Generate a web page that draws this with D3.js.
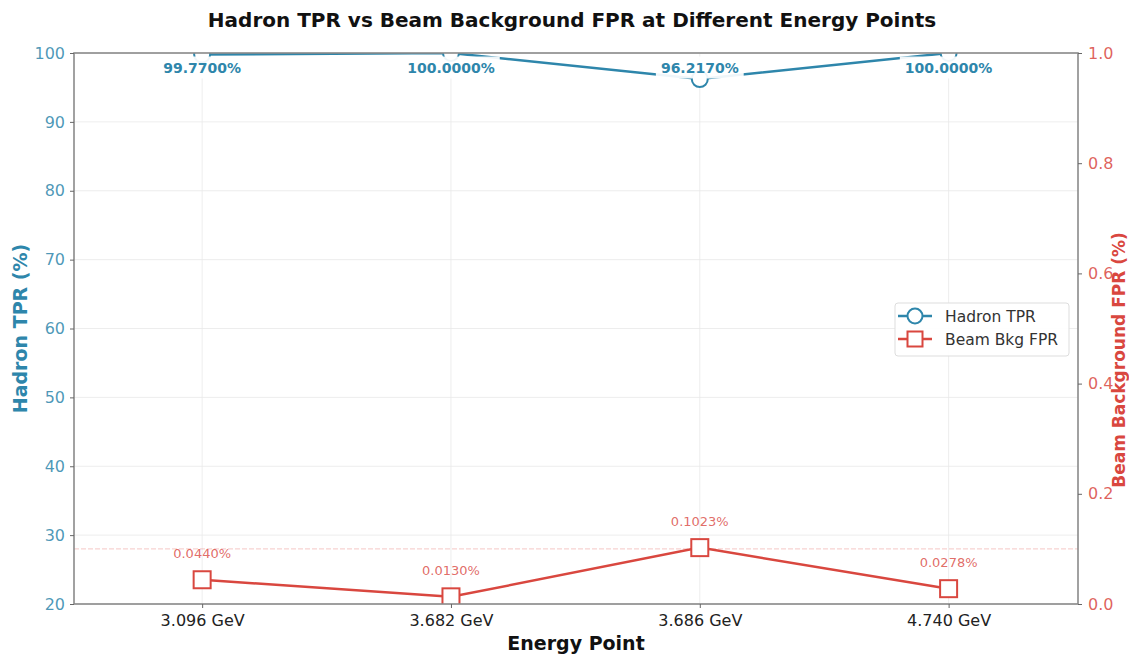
<!DOCTYPE html>
<html><head><meta charset="utf-8">
<script src="https://cdn.jsdelivr.net/npm/d3@7"></script>
<style>body{margin:0;background:#fff;}svg{display:block;font-family:"DejaVu Sans",sans-serif;}</style>
</head><body>
<svg id="c" width="1129" height="654"></svg>
<script>
const categories = ["3.096 GeV", "3.682 GeV", "3.686 GeV", "4.740 GeV"];
const hadronTPR = [99.77, 100.0, 96.217, 100.0];
const beamFPR = [0.0440, 0.0130, 0.1023, 0.0278];
const leftTicks = [20, 30, 40, 50, 60, 70, 80, 90, 100];
const rightTicks = [0.0, 0.2, 0.4, 0.6, 0.8, 1.0];

const blue = "#2E86AB", red = "#D9473F";
const svg = d3.select("#c");
const L = 74, R = 1078, T = 53, B = 604;

const x = d3.scaleLinear().domain([-0.515, categories.length - 1 + 0.52]).range([L, R]);
const yL = d3.scaleLinear().domain([20, 100]).range([B, T]);
const yR = d3.scaleLinear().domain([0, 1]).range([B, T]);

// grid
const g = svg.append("g");
g.selectAll(".hg").data(leftTicks).enter().append("line")
  .attr("x1", L).attr("x2", R).attr("y1", d => yL(d)).attr("y2", d => yL(d))
  .attr("stroke", "#e8e8e8").attr("stroke-width", 0.8);
g.selectAll(".vg").data(categories).enter().append("line")
  .attr("x1", (d, i) => x(i)).attr("x2", (d, i) => x(i)).attr("y1", T).attr("y2", B)
  .attr("stroke", "#e8e8e8").attr("stroke-width", 0.8);
// threshold line at 0.1
g.append("line").attr("x1", L).attr("x2", R).attr("y1", yR(0.1)).attr("y2", yR(0.1))
  .attr("stroke", red).attr("stroke-opacity", 0.3).attr("stroke-width", 1).attr("stroke-dasharray", "5,2");

// clip
svg.append("clipPath").attr("id", "clip").append("rect")
  .attr("x", L).attr("y", T).attr("width", R - L).attr("height", B - T);

const plot = svg.append("g").attr("clip-path", "url(#clip)");

// Hadron line
plot.append("path").datum(hadronTPR)
  .attr("d", d3.line().x((d, i) => x(i)).y(d => yL(d)))
  .attr("fill", "none").attr("stroke", blue).attr("stroke-width", 2.5);
plot.selectAll(".hc").data(hadronTPR).enter().append("circle")
  .attr("cx", (d, i) => x(i)).attr("cy", d => yL(d)).attr("r", 8)
  .attr("fill", "#fff").attr("stroke", blue).attr("stroke-width", 2);

// Beam line
plot.append("path").datum(beamFPR)
  .attr("d", d3.line().x((d, i) => x(i)).y(d => yR(d)))
  .attr("fill", "none").attr("stroke", red).attr("stroke-width", 2.5);
plot.selectAll(".bs").data(beamFPR).enter().append("rect")
  .attr("x", (d, i) => x(i) - 8.5).attr("y", d => yR(d) - 8.5)
  .attr("width", 17).attr("height", 17)
  .attr("fill", "#fff").attr("stroke", red).attr("stroke-width", 2);

// Hadron labels with white boxes
const hl = svg.append("g");
hadronTPR.forEach((v, i) => {
  const ly = yL(Math.min(v + 1.75, 97.9));
  const t = hl.append("text").attr("x", x(i)).attr("y", ly).attr("dy", "0.36em")
    .attr("text-anchor", "middle").attr("font-size", 14).attr("font-weight", "bold")
    .attr("fill", blue).text(v.toFixed(4) + "%");
  const bb = t.node().getBBox();
  hl.insert("rect", "text").attr("x", bb.x - 5).attr("y", bb.y - 3).attr("width", bb.width + 10).attr("height", bb.height + 6)
    .attr("fill", "#fff").attr("fill-opacity", 0.92);
});
// Beam labels
svg.selectAll(".bl").data(beamFPR).enter().append("text")
  .attr("x", (d, i) => x(i)).attr("y", d => yR(d) - 22)
  .attr("text-anchor", "middle").attr("font-size", 13)
  .attr("fill", red).attr("fill-opacity", 0.8).text(d => d.toFixed(4) + "%");

// spines
svg.append("rect").attr("x", L).attr("y", T).attr("width", R - L).attr("height", B - T)
  .attr("fill", "none").attr("stroke", "#8a8a8a").attr("stroke-width", 1.6);

// axes
const ax = svg.append("g").attr("transform", `translate(0,${B})`)
  .call(d3.axisBottom(x).tickValues(d3.range(categories.length)).tickFormat(i => categories[i]).tickSize(4).tickPadding(7));
ax.select(".domain").remove();
ax.selectAll("line").attr("stroke", "#666");
ax.selectAll("text").attr("font-size", 16).attr("fill", "#222").attr("font-family", "DejaVu Sans");

const ayl = svg.append("g").attr("transform", `translate(${L},0)`)
  .call(d3.axisLeft(yL).tickValues(leftTicks).tickSize(4).tickPadding(5));
ayl.select(".domain").remove();
ayl.selectAll("line").attr("stroke", "#666");
ayl.selectAll("text").attr("font-size", 16).attr("fill", blue).attr("fill-opacity", 0.85).attr("font-family", "DejaVu Sans");

const ayr = svg.append("g").attr("transform", `translate(${R},0)`)
  .call(d3.axisRight(yR).tickValues(rightTicks).tickFormat(d3.format(".1f")).tickSize(4).tickPadding(6));
ayr.select(".domain").remove();
ayr.selectAll("line").attr("stroke", "#666");
ayr.selectAll("text").attr("font-size", 16).attr("fill", red).attr("fill-opacity", 0.85).attr("font-family", "DejaVu Sans");

// titles
svg.append("text").attr("x", 572).attr("y", 27).attr("text-anchor", "middle")
  .attr("font-size", 20).attr("font-weight", "bold").attr("fill", "#111")
  .text("Hadron TPR vs Beam Background FPR at Different Energy Points");
svg.append("text").attr("x", 576).attr("y", 650).attr("text-anchor", "middle")
  .attr("font-size", 19).attr("font-weight", "bold").attr("fill", "#111").text("Energy Point");
svg.append("text").attr("transform", `translate(27,${(T + B) / 2}) rotate(-90)`).attr("text-anchor", "middle")
  .attr("font-size", 19).attr("font-weight", "bold").attr("fill", blue).text("Hadron TPR (%)");
svg.append("text").attr("transform", `translate(1125,360) rotate(-90)`).attr("text-anchor", "middle")
  .attr("font-size", 17).attr("font-weight", "bold").attr("fill", red).text("Beam Background FPR (%)");

// legend
const lg = svg.append("g").attr("transform", "translate(895,303)");
lg.append("rect").attr("width", 174).attr("height", 53).attr("rx", 3)
  .attr("fill", "#fff").attr("fill-opacity", 0.9).attr("stroke", "#ddd");
const items = [{n: "Hadron TPR", c: blue, m: "circle"}, {n: "Beam Bkg FPR", c: red, m: "square"}];
items.forEach((it, i) => {
  const yy = 13 + i * 23;
  lg.append("line").attr("x1", 3).attr("x2", 37).attr("y1", yy).attr("y2", yy).attr("stroke", it.c).attr("stroke-width", 2.5);
  if (it.m === "circle") lg.append("circle").attr("cx", 20).attr("cy", yy).attr("r", 7.5).attr("fill", "#fff").attr("stroke", it.c).attr("stroke-width", 2);
  else lg.append("rect").attr("x", 12.5).attr("y", yy - 7.5).attr("width", 15).attr("height", 15).attr("fill", "#fff").attr("stroke", it.c).attr("stroke-width", 2);
  lg.append("text").attr("x", 50).attr("y", yy).attr("dy", "0.36em").attr("font-size", 15.5).attr("fill", "#333").text(it.n);
});
</script>
</body></html>
